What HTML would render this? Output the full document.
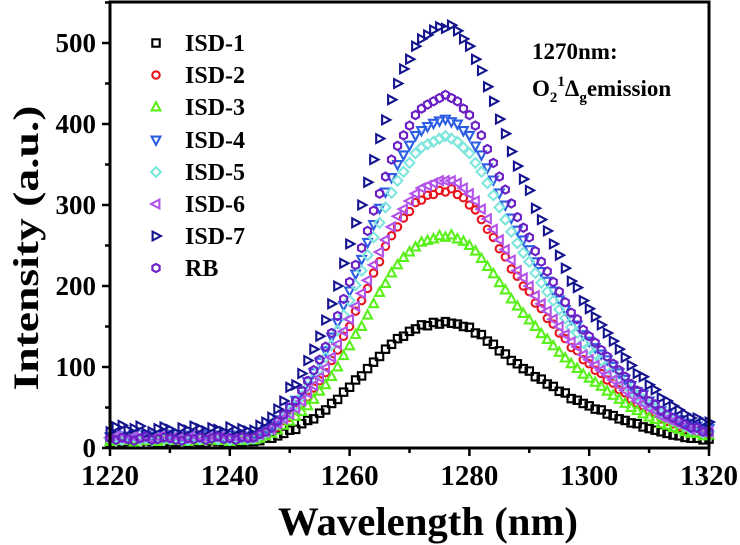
<!DOCTYPE html>
<html><head><meta charset="utf-8"><style>
html,body{margin:0;padding:0;background:#fff;}
svg{display:block;font-family:"Liberation Serif",serif;font-weight:bold;}
</style></head><body>
<svg id="chart" width="740" height="545" viewBox="0 0 740 545" xmlns="http://www.w3.org/2000/svg">
<g id="plot"></g>
<g id="axes"></g>
<g id="legend"></g>
<text x="532" y="59" font-size="23">1270nm:</text>
<text x="532" y="96" font-size="23">O<tspan font-size="15" dy="6">2</tspan><tspan font-size="15" dy="-16">1</tspan><tspan dy="10">Δ</tspan><tspan font-size="15" dy="6">g</tspan><tspan dy="-6">emission</tspan></text>
<text x="278" y="535" font-size="40" textLength="300" lengthAdjust="spacingAndGlyphs">Wavelength (nm)</text>
<text x="0" y="0" font-size="36" text-anchor="middle" textLength="285" lengthAdjust="spacingAndGlyphs" transform="translate(38,248) rotate(-90)">Intensity (a.u.)</text>
</svg>
<script>
const seriesNames=["ISD-1","ISD-2","ISD-3","ISD-4","ISD-5","ISD-6","ISD-7","RB"];
const xStart=1220;
const xTicks=[1220,1240,1260,1280,1300,1320];
const yTicks=[0,100,200,300,400,500];
const isd1=[6,5,7,8,6,5,9,8,7,6,8,7,5,6,8,7,6,9,8,7,6,8,7,8,
8,9,12,12,15,18,22,23,30,34,36,43,47,55,60,69,75,84,89,98,106,113,122,128,135,138,144,147,152,151,155,153,156,154,153,150,149,142,140,132,128,120,116,108,104,98,95,88,85,79,76,70,68,61,59,55,52,48,47,42,40,36,34,31,30,26,24,22,20,18,16,15,13,12,12,10,11];
const isd2=[10,12,9,11,13,10,12,11,9,12,10,13,11,10,12,9,11,12,10,13,11,12,10,11,
12,16,18,22,26,34,38,47,55,63,74,83,93,108,121,138,150,169,182,197,216,230,249,262,273,284,292,303,306,312,313,318,316,320,313,309,300,294,282,270,260,246,236,221,212,200,193,179,172,160,153,142,135,124,120,109,104,96,92,84,80,72,68,60,55,52,46,43,36,33,30,27,24,22,21,18,19];
const isd3=[8,10,9,11,7,10,9,12,8,10,11,9,10,8,11,9,10,12,9,10,8,11,9,10,
10,12,15,18,22,28,33,39,45,52,60,70,78,88,100,114,126,140,150,164,178,192,203,216,226,235,242,248,254,256,258,262,260,263,258,255,250,243,234,224,215,204,195,184,175,166,158,150,141,134,126,118,111,104,98,91,86,81,76,70,65,60,55,50,46,42,38,35,30,28,25,23,20,18,18,15,16];
const isd4=[14,16,13,15,17,12,16,14,15,13,17,15,14,16,13,15,17,14,16,15,13,16,14,15,
16,20,23,28,35,42,50,59,70,82,93,106,120,137,155,176,194,215,233,254,276,296,316,334,350,362,374,386,392,397,401,404,406,403,400,392,386,373,362,346,331,315,300,284,269,257,245,230,218,206,194,183,171,159,152,140,132,124,116,109,101,93,85,77,70,66,58,54,46,42,38,35,31,27,27,23,24];
const isd5=[11,13,10,12,14,11,12,10,13,12,11,14,12,10,13,11,12,14,11,12,10,13,12,11,
12,16,19,23,31,38,45,53,64,75,86,97,112,127,145,164,182,201,219,238,260,278,297,315,330,341,352,364,371,375,378,382,385,382,378,371,364,352,341,327,312,297,282,267,253,241,230,216,204,193,182,171,160,149,142,130,123,116,108,101,93,86,79,71,64,60,53,49,42,38,34,31,27,23,23,19,20];
const isd6=[13,15,12,16,14,13,15,12,14,16,13,15,14,12,16,14,13,15,14,16,13,14,15,13,
14,17,20,23,30,36,42,49,58,68,77,87,99,112,128,144,159,175,191,207,226,242,257,273,286,295,305,314,321,324,327,330,330,330,327,321,314,305,295,283,270,257,245,232,219,210,200,188,178,169,159,150,140,131,125,115,109,102,96,90,84,77,71,65,58,55,49,46,39,36,33,30,27,23,23,20,20];
const isd7=[20,26,28,22,24,27,18,20,24,26,23,19,25,22,27,24,21,25,23,20,26,22,24,21,
22,28,32,38,48,58,75,78,92,108,122,138,158,178,200,228,252,278,300,328,356,382,405,430,450,468,480,496,505,510,516,520,518,522,515,505,496,480,466,446,428,406,388,366,348,332,318,296,282,268,252,238,222,206,198,182,172,162,152,142,132,122,112,102,92,88,78,72,62,58,52,47,42,37,37,32,32];
const rb=[12,10,13,11,9,12,14,10,11,13,12,10,9,12,11,13,10,12,14,11,12,10,13,12,
13,17,20,25,33,41,50,58,71,83,96,109,125,142,163,184,205,226,247,268,293,314,335,356,373,386,398,411,419,424,428,432,436,432,428,419,411,398,386,369,352,335,319,302,285,272,260,243,230,218,205,193,180,167,159,146,138,130,121,113,104,96,88,79,71,67,58,54,46,41,37,33,29,25,25,20,20];
const allSeries=[isd1,isd2,isd3,isd4,isd5,isd6,isd7,rb];
const colors=["#000000","#e8141c","#5af01a","#2c5ee4","#7ee6dc","#b252ea","#14148e","#6a20c4"];
const shapes=["square","circle","up","down","diamond","left","right","hex"];

const L=110,R=709,T=2,B=448;
const xs=v=>L+(v-1220)/(1320-1220)*(R-L);
const ys=v=>B-v/500*(B-43);
const NS="http://www.w3.org/2000/svg";
function mk(tag,attrs,parent){const e=document.createElementNS(NS,tag);for(const k in attrs)e.setAttribute(k,attrs[k]);parent.appendChild(e);return e;}
function marker(shape,cx,cy,color,parent){
  const s=4.4;let e;const st={fill:"none",stroke:color,"stroke-width":2.1};
  if(shape==="square")e=mk("rect",Object.assign({x:cx-3.7,y:cy-3.7,width:7.4,height:7.4},st),parent);
  else if(shape==="circle")e=mk("circle",Object.assign({cx:cx,cy:cy,r:3.7},st),parent);
  else{
    let p;
    if(shape==="up")p=[[0,-s-0.5],[s,s-1],[-s,s-1]];
    else if(shape==="down")p=[[0,s+0.5],[s,-s+1],[-s,-s+1]];
    else if(shape==="left")p=[[-s-0.5,0],[s-1,-s],[s-1,s]];
    else if(shape==="right")p=[[s+0.5,0],[-s+1,-s],[-s+1,s]];
    else if(shape==="diamond")p=[[0,-s-0.5],[s+0.5,0],[0,s+0.5],[-s-0.5,0]];
    else {p=[];for(let i=0;i<6;i++){const a=Math.PI/6+i*Math.PI/3;p.push([4.1*Math.cos(a),4.1*Math.sin(a)]);}}
    e=mk("polygon",Object.assign({points:p.map(q=>(cx+q[0]).toFixed(1)+","+(cy+q[1]).toFixed(1)).join(" ")},st),parent);
  }
  return e;
}
const plot=document.getElementById("plot");
allSeries.forEach((arr,si)=>{
  const g=mk("g",{},plot);
  
  
  arr.forEach((v,i)=>{
    const m=marker(shapes[si],xs(xStart+i),ys(v),colors[si],g);
    
    
  });
});
const axes=document.getElementById("axes");
const frame=mk("rect",{x:L,y:T,width:R-L,height:B-T,fill:"none",stroke:"#000","stroke-width":3},axes);


for(let v=1220;v<=1320;v+=10){
  const major=(v%20===0);
  const t=mk("line",{x1:xs(v),x2:xs(v),y1:B,y2:B+(major?8:5),stroke:"#000","stroke-width":2.5},axes);
  
  
}
xTicks.forEach(v=>{
  const t=mk("text",{x:xs(v)-29,y:B+37,"font-size":28,textLength:58,lengthAdjust:"spacingAndGlyphs"},axes);
  t.textContent=v;
  
  
});
for(let v=0;v<=550;v+=50){
  const major=(v%100===0);
  const t=mk("line",{x1:L,x2:L-(major?8:5),y1:ys(v),y2:ys(v),stroke:"#000","stroke-width":2.5},axes);
  
  
}
yTicks.forEach(v=>{
  const t=mk("text",{x:L-14,y:ys(v)+9,"font-size":27,"text-anchor":"end"},axes);
  t.textContent=v;
  
  
});
const legend=document.getElementById("legend");
const ly=[43,75,107,140,172,204,236,268];
seriesNames.forEach((n,i)=>{
  const g=mk("g",{},legend);
  
  
  marker(shapes[i],156,ly[i],colors[i],g);
  const t=mk("text",{x:185,y:ly[i]+8,"font-size":24},g);
  t.textContent=n;
});
</script>
</body></html>
